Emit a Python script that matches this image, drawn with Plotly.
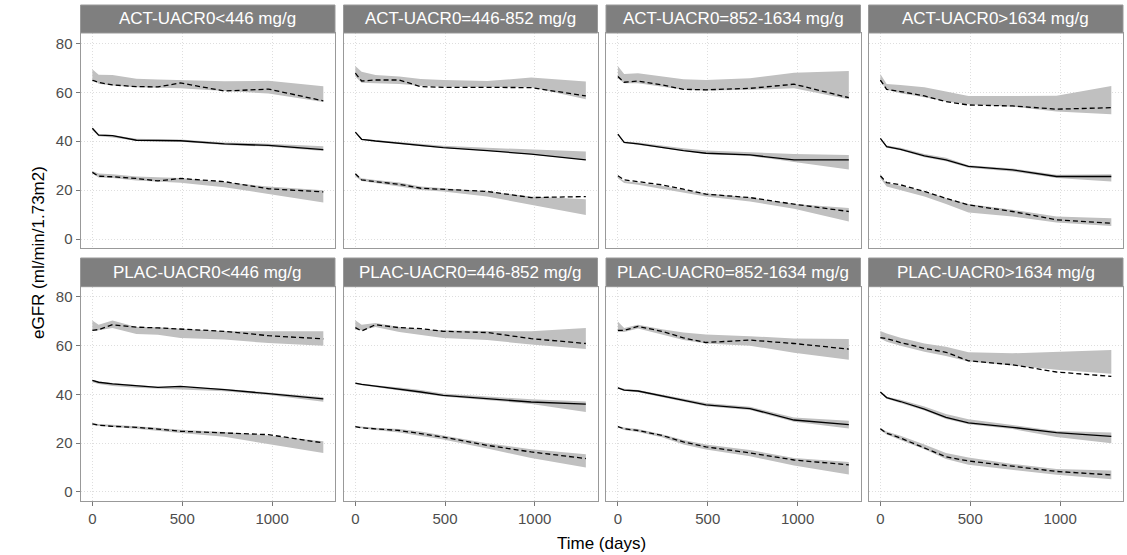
import plotly.graph_objects as go

# ---------------- data ----------------
TIME = [0, 35, 112, 245, 365, 490, 735, 980, 1285]
PANEL_TITLES = [
    "ACT-UACR0<446 mg/g", "ACT-UACR0=446-852 mg/g", "ACT-UACR0=852-1634 mg/g", "ACT-UACR0>1634 mg/g",
    "PLAC-UACR0<446 mg/g", "PLAC-UACR0=446-852 mg/g", "PLAC-UACR0=852-1634 mg/g", "PLAC-UACR0>1634 mg/g",
]
X_TICKS = [0, 500, 1000]
Y_TICKS = [0, 20, 40, 60, 80]

# Panel 1: ACT-UACR0<446
P1_OBS95 = [65.0, 64.0, 63.0, 62.3, 62.2, 63.8, 60.5, 61.3, 56.5]
P1_SIM95_HI = [69.4, 67.2, 67.0, 65.5, 65.2, 65.0, 64.5, 64.7, 62.5]
P1_SIM95_LO = [65.5, 63.5, 62.8, 62.0, 61.8, 61.6, 60.5, 59.5, 56.0]
P1_OBS50 = [45.3, 42.5, 42.3, 40.4, 40.3, 40.2, 38.9, 38.3, 36.6]
P1_SIM50_HI = [45.5, 43.0, 42.5, 41.0, 40.8, 40.7, 39.5, 39.0, 38.0]
P1_SIM50_LO = [44.5, 42.0, 41.5, 40.2, 40.0, 39.8, 38.5, 37.8, 36.0]
P1_OBS05 = [27.3, 25.7, 25.5, 24.8, 23.8, 24.8, 23.5, 20.6, 19.3]
P1_SIM05_HI = [27.8, 26.8, 26.5, 25.6, 25.3, 25.0, 23.2, 21.5, 20.0]
P1_SIM05_LO = [26.8, 25.2, 25.0, 24.0, 23.5, 23.0, 21.2, 18.5, 15.0]

# Panel 2: ACT-UACR0=446-852
P2_OBS95 = [67.8, 64.6, 65.0, 65.0, 62.3, 62.0, 62.0, 61.9, 58.5]
P2_SIM95_HI = [70.7, 68.4, 67.0, 66.4, 65.4, 65.0, 64.6, 66.0, 64.4]
P2_SIM95_LO = [66.4, 63.9, 63.7, 63.4, 62.7, 62.3, 62.0, 62.0, 57.1]
P2_OBS50 = [43.7, 40.8, 40.1, 39.2, 38.2, 37.4, 36.2, 34.7, 32.4]
P2_SIM50_HI = [44.0, 41.0, 40.5, 39.6, 38.8, 38.2, 37.3, 36.5, 35.8]
P2_SIM50_LO = [43.4, 40.6, 39.9, 39.0, 38.0, 37.2, 36.0, 34.6, 32.3]
P2_OBS05 = [26.7, 24.2, 23.5, 22.4, 20.8, 20.4, 19.5, 17.0, 17.4]
P2_SIM05_HI = [26.3, 24.9, 24.2, 23.1, 21.5, 20.8, 19.5, 17.4, 16.3]
P2_SIM05_LO = [25.6, 23.8, 22.9, 21.5, 20.1, 19.5, 17.4, 14.0, 9.9]

# Panel 3: ACT-UACR0=852-1634
P3_OBS95 = [66.4, 64.1, 64.6, 63.0, 61.2, 61.0, 61.6, 63.3, 57.8]
P3_SIM95_HI = [70.7, 67.5, 67.8, 66.4, 65.3, 65.0, 65.7, 68.0, 68.7]
P3_SIM95_LO = [65.7, 63.7, 63.7, 62.3, 61.0, 60.7, 61.0, 61.6, 57.1]
P3_OBS50 = [42.9, 39.5, 38.9, 37.4, 36.2, 35.1, 34.4, 32.4, 32.4]
P3_SIM50_HI = [42.9, 39.9, 39.5, 38.1, 37.1, 36.2, 35.5, 34.8, 34.4]
P3_SIM50_LO = [42.6, 39.3, 38.7, 37.2, 36.0, 34.8, 34.0, 31.5, 28.5]
P3_OBS05 = [25.9, 24.2, 23.5, 22.2, 20.4, 18.4, 17.0, 14.3, 11.3]
P3_SIM05_HI = [25.6, 23.8, 23.1, 21.8, 20.1, 18.8, 17.0, 14.4, 12.7]
P3_SIM05_LO = [24.9, 22.9, 22.2, 20.8, 19.0, 17.4, 15.4, 12.4, 7.2]

# Panel 4: ACT-UACR0>1634
P4_OBS95 = [65.0, 61.2, 60.3, 58.5, 56.2, 54.8, 54.4, 53.1, 53.7]
P4_SIM95_HI = [67.5, 63.4, 63.0, 62.0, 60.3, 58.5, 58.5, 58.6, 62.6]
P4_SIM95_LO = [64.4, 61.0, 59.6, 58.0, 56.2, 55.1, 54.1, 52.1, 51.0]
P4_OBS50 = [41.2, 37.8, 36.7, 34.0, 32.4, 29.7, 28.3, 25.6, 25.6]
P4_SIM50_HI = [41.2, 38.3, 37.3, 34.8, 33.3, 30.2, 28.9, 26.3, 26.5]
P4_SIM50_LO = [40.8, 37.3, 36.3, 33.5, 31.8, 29.2, 27.6, 25.0, 23.6]
P4_OBS05 = [25.9, 23.1, 22.2, 19.5, 16.7, 14.0, 11.3, 7.9, 6.5]
P4_SIM05_HI = [25.6, 22.9, 21.8, 19.5, 16.7, 14.4, 12.0, 9.3, 8.6]
P4_SIM05_LO = [24.9, 21.5, 20.1, 17.4, 14.4, 10.9, 9.3, 6.8, 5.4]

# Panel 5: PLAC-UACR0<446
P5_OBS95 = [66.3, 66.6, 68.6, 67.6, 67.3, 66.9, 65.9, 64.1, 62.8]
P5_SIM95_HI = [70.3, 68.6, 70.3, 67.7, 67.6, 66.9, 65.9, 65.9, 65.9]
P5_SIM95_LO = [66.3, 66.3, 67.3, 64.8, 64.5, 63.2, 62.5, 61.1, 60.0]
P5_OBS50 = [45.8, 45.0, 44.3, 43.6, 42.9, 43.3, 42.0, 40.3, 38.2]
P5_SIM50_HI = [46.0, 45.3, 44.7, 43.8, 43.2, 43.0, 42.3, 40.8, 38.8]
P5_SIM50_LO = [45.0, 44.3, 43.5, 42.7, 42.2, 42.0, 41.3, 39.8, 37.0]
P5_OBS05 = [27.9, 27.4, 26.9, 26.5, 25.8, 24.9, 24.2, 23.5, 20.1]
P5_SIM05_HI = [28.2, 27.9, 27.6, 27.0, 26.3, 25.5, 24.6, 23.2, 20.8]
P5_SIM05_LO = [27.5, 27.0, 26.6, 25.9, 25.2, 24.2, 22.6, 19.6, 16.0]

# Panel 6: PLAC-UACR0=446-852
P6_OBS95 = [67.4, 66.0, 68.6, 67.4, 67.0, 65.9, 65.4, 62.9, 60.9]
P6_SIM95_HI = [70.4, 68.6, 69.3, 67.7, 66.7, 66.3, 66.0, 65.9, 67.3]
P6_SIM95_LO = [66.6, 66.3, 67.7, 65.6, 64.3, 63.2, 62.3, 60.5, 58.6]
P6_OBS50 = [44.6, 44.1, 43.4, 42.3, 41.0, 39.6, 38.4, 36.9, 36.0]
P6_SIM50_HI = [44.8, 44.4, 43.8, 42.8, 41.8, 40.4, 39.3, 38.0, 37.1]
P6_SIM50_LO = [44.2, 43.6, 42.9, 41.6, 40.4, 39.2, 37.8, 36.1, 32.8]
P6_OBS05 = [26.8, 26.3, 25.9, 25.2, 23.9, 22.5, 19.1, 16.4, 13.7]
P6_SIM05_HI = [27.0, 26.7, 26.3, 25.8, 24.8, 23.2, 20.0, 17.5, 15.5]
P6_SIM05_LO = [26.4, 25.9, 25.4, 24.4, 22.9, 21.5, 17.8, 13.9, 10.0]

# Panel 7: PLAC-UACR0=852-1634
P7_OBS95 = [66.3, 66.3, 67.9, 65.9, 63.2, 61.3, 62.3, 60.9, 58.6]
P7_SIM95_HI = [69.9, 67.3, 68.6, 66.7, 65.4, 64.6, 63.9, 62.9, 62.7]
P7_SIM95_LO = [65.6, 65.6, 67.0, 64.6, 62.3, 60.9, 60.0, 57.1, 54.2]
P7_OBS50 = [42.7, 41.8, 41.4, 39.4, 37.6, 35.7, 34.2, 29.5, 27.6]
P7_SIM50_HI = [43.0, 42.3, 41.8, 39.9, 38.3, 36.5, 34.9, 30.5, 29.2]
P7_SIM50_LO = [42.4, 41.5, 40.9, 38.9, 37.1, 35.2, 33.6, 28.8, 26.0]
P7_OBS05 = [26.8, 25.9, 25.2, 23.2, 20.5, 18.5, 16.0, 13.1, 11.1]
P7_SIM05_HI = [27.0, 26.4, 25.8, 23.7, 21.3, 19.5, 17.2, 13.9, 12.3]
P7_SIM05_LO = [26.4, 25.4, 24.6, 22.4, 19.5, 17.4, 14.6, 10.8, 7.2]

# Panel 8: PLAC-UACR0>1634
P8_OBS95 = [63.3, 62.9, 61.3, 58.9, 57.3, 53.8, 52.2, 49.2, 47.4]
P8_SIM95_HI = [66.0, 65.0, 63.3, 60.9, 59.6, 57.3, 56.9, 57.5, 58.2]
P8_SIM95_LO = [62.9, 61.6, 60.0, 57.5, 55.8, 53.5, 51.9, 50.1, 48.5]
P8_OBS50 = [41.0, 38.7, 37.1, 34.0, 30.6, 28.3, 26.5, 24.3, 22.8]
P8_SIM50_HI = [41.2, 39.0, 37.8, 35.0, 32.0, 29.8, 27.5, 25.0, 24.4]
P8_SIM50_LO = [40.6, 38.2, 36.6, 33.4, 29.9, 27.8, 25.8, 22.5, 20.0]
P8_OBS05 = [25.9, 24.1, 22.1, 18.2, 14.4, 12.7, 10.4, 8.4, 7.0]
P8_SIM05_HI = [26.2, 24.8, 23.0, 19.5, 16.0, 14.1, 11.5, 9.4, 8.8]
P8_SIM05_LO = [25.3, 23.6, 21.3, 17.5, 13.5, 11.2, 9.0, 7.0, 5.2]

PANELS = [
    (P1_OBS05, P1_OBS50, P1_OBS95, P1_SIM05_LO, P1_SIM05_HI, P1_SIM50_LO, P1_SIM50_HI, P1_SIM95_LO, P1_SIM95_HI),
    (P2_OBS05, P2_OBS50, P2_OBS95, P2_SIM05_LO, P2_SIM05_HI, P2_SIM50_LO, P2_SIM50_HI, P2_SIM95_LO, P2_SIM95_HI),
    (P3_OBS05, P3_OBS50, P3_OBS95, P3_SIM05_LO, P3_SIM05_HI, P3_SIM50_LO, P3_SIM50_HI, P3_SIM95_LO, P3_SIM95_HI),
    (P4_OBS05, P4_OBS50, P4_OBS95, P4_SIM05_LO, P4_SIM05_HI, P4_SIM50_LO, P4_SIM50_HI, P4_SIM95_LO, P4_SIM95_HI),
    (P5_OBS05, P5_OBS50, P5_OBS95, P5_SIM05_LO, P5_SIM05_HI, P5_SIM50_LO, P5_SIM50_HI, P5_SIM95_LO, P5_SIM95_HI),
    (P6_OBS05, P6_OBS50, P6_OBS95, P6_SIM05_LO, P6_SIM05_HI, P6_SIM50_LO, P6_SIM50_HI, P6_SIM95_LO, P6_SIM95_HI),
    (P7_OBS05, P7_OBS50, P7_OBS95, P7_SIM05_LO, P7_SIM05_HI, P7_SIM50_LO, P7_SIM50_HI, P7_SIM95_LO, P7_SIM95_HI),
    (P8_OBS05, P8_OBS50, P8_OBS95, P8_SIM05_LO, P8_SIM05_HI, P8_SIM50_LO, P8_SIM50_HI, P8_SIM95_LO, P8_SIM95_HI),
]

# ---------------- layout ----------------
W, H = 1127, 555
COLS = [(80.5, 335.0), (343.5, 597.5), (606.0, 860.5), (868.5, 1123.0)]
ROWS = [(33.0, 248.0), (286.7, 500.7)]
STRIPS = [(5.0, 33.0), (258.0, 286.7)]
FONT = "Liberation Sans, Arial, sans-serif"
BAND = "#c0c0c0"
GRID = "#dedede"
BORDER = "#999999"
STRIP_BG = "#7f7f7f"

fig = go.Figure()
layout = dict(
    width=W, height=H, margin=dict(l=0, r=0, t=0, b=0),
    paper_bgcolor="white", plot_bgcolor="white", showlegend=False,
    font=dict(family=FONT, color="#4d4d4d"),
)
shapes, annotations = [], []

for i, series in enumerate(PANELS):
    r, c = divmod(i, 4)
    k = i + 1
    xa = "x" if k == 1 else f"x{k}"
    ya = "y" if k == 1 else f"y{k}"
    obs05, obs50, obs95, s05lo, s05hi, s50lo, s50hi, s95lo, s95hi = series
    for lo, hi in ((s05lo, s05hi), (s50lo, s50hi), (s95lo, s95hi)):
        fig.add_trace(go.Scatter(
            x=TIME + TIME[::-1], y=hi + lo[::-1], fill="toself", fillcolor=BAND,
            mode="lines", line=dict(width=0), hoverinfo="skip", xaxis=xa, yaxis=ya))
    for ys, dash in ((obs05, "5px,3px"), (obs50, "solid"), (obs95, "5px,3px")):
        fig.add_trace(go.Scatter(
            x=TIME, y=ys, mode="lines", line=dict(color="black", width=1.3, dash=dash),
            xaxis=xa, yaxis=ya))

    x0, x1 = COLS[c]
    y0, y1 = ROWS[r]
    xkey = "xaxis" if k == 1 else f"xaxis{k}"
    ykey = "yaxis" if k == 1 else f"yaxis{k}"
    bottom = r == 1
    left = c == 0
    layout[xkey] = dict(
        domain=[x0 / W, x1 / W], anchor=ya, range=[-66, 1350],
        tickvals=X_TICKS, showticklabels=bottom, ticks="outside" if bottom else "",
        ticklen=4, tickcolor="#777777", tickfont=dict(size=15, color="#4d4d4d"),
        showgrid=True, gridcolor=GRID, griddash="1px,2px", gridwidth=1,
        showline=True, mirror=True, linecolor=BORDER, linewidth=1, zeroline=False,
    )
    layout[ykey] = dict(
        domain=[(H - y1) / H, (H - y0) / H], anchor=xa, range=[-3.6, 84.2],
        tickvals=Y_TICKS, showticklabels=left, ticks="outside" if left else "",
        ticklen=4, tickcolor="#777777", tickfont=dict(size=15, color="#4d4d4d"),
        showgrid=True, gridcolor=GRID, griddash="1px,2px", gridwidth=1,
        showline=True, mirror=True, linecolor=BORDER, linewidth=1, zeroline=False,
    )
    sy0, sy1 = STRIPS[r]
    shapes.append(dict(type="rect", xref="paper", yref="paper",
                       x0=x0 / W, x1=x1 / W, y0=(H - sy1) / H, y1=(H - sy0) / H,
                       fillcolor=STRIP_BG, line=dict(color=BORDER, width=1), layer="above"))
    annotations.append(dict(text=PANEL_TITLES[i], xref="paper", yref="paper",
                            x=(x0 + x1) / 2 / W, y=(H - (sy0 + sy1) / 2) / H,
                            showarrow=False, xanchor="center", yanchor="middle",
                            font=dict(size=17, color="white", family=FONT)))

annotations.append(dict(text="Time (days)", xref="paper", yref="paper",
                        x=(80.5 + 1123) / 2 / W, y=(H - 543) / H, showarrow=False,
                        xanchor="center", yanchor="middle",
                        font=dict(size=17, color="black", family=FONT)))
annotations.append(dict(text="eGFR (ml/min/1.73m2)", xref="paper", yref="paper",
                        x=38 / W, y=(H - 253) / H, showarrow=False, textangle=-90,
                        xanchor="center", yanchor="middle",
                        font=dict(size=17, color="black", family=FONT)))

layout["shapes"] = shapes
layout["annotations"] = annotations
fig.update_layout(**layout)
fig.write_html("out.html", config={"displayModeBar": False},
               post_script="document.body.style.margin='0px';")
